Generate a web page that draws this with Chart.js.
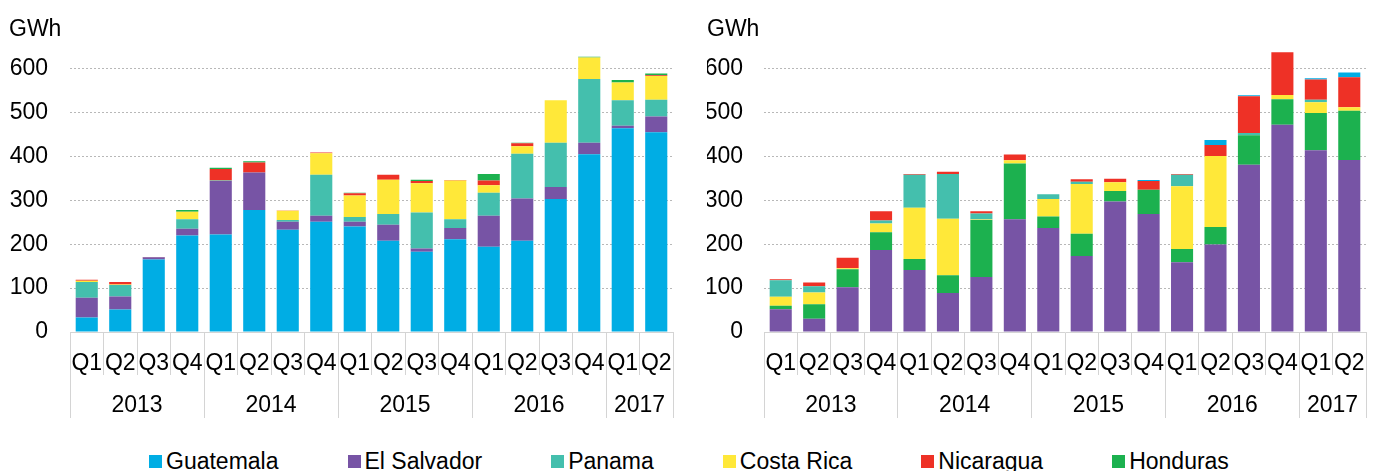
<!DOCTYPE html>
<html>
<head>
<meta charset="utf-8">
<script src="https://cdn.jsdelivr.net/npm/chart.js@4.4.1/dist/chart.umd.min.js"></script>
<style>
  body { margin: 0; width: 1373px; height: 471px; overflow: hidden; background: #fff;
         font-family: 'Liberation Sans', Arial, sans-serif; }
  .box { position: absolute; top: 0; height: 420px; }
  #legend { position: absolute; left: 149px; top: 450px; display: flex; gap: 69px;
            font-size: 23px; line-height: 23px; color: #000; white-space: nowrap; }
  .item { display: flex; align-items: center; }
  .sw { width: 13px; height: 13px; margin-right: 4px; }
</style>
</head>
<body>
<div class="box" style="left:0;width:690px"><canvas id="chart-left"></canvas></div>
<div class="box" style="left:690px;width:683px"><canvas id="chart-right"></canvas></div>
<div id="legend"></div>

<script>
// 横轴：季度 + 年份
const quarters = ['Q1', 'Q2', 'Q3', 'Q4', 'Q1', 'Q2', 'Q3', 'Q4', 'Q1', 'Q2', 'Q3', 'Q4',
                  'Q1', 'Q2', 'Q3', 'Q4', 'Q1', 'Q2'];
const years = ['2013', '2014', '2015', '2016', '2017'];
const quartersPerYear = [4, 4, 4, 4, 2];

// 纵轴刻度
const yMax = 650;
const yTicks = [0, 100, 200, 300, 400, 500, 600];

// 左图 (GWh)
const leftGuatemala  = [33, 51, 165, 220, 222, 278, 233, 251, 240, 208, 183, 211, 194, 208, 303, 405, 464, 455];
const leftElSalvador = [45, 30, 5, 15, 122, 85, 18, 14, 11, 36, 7, 26, 71, 96, 27, 26, 6, 36];
const leftPanama     = [36, 26, 0, 22, 1, 0, 4, 93, 11, 25, 82, 20, 52, 102, 101, 145, 58, 38];
const leftCostaRica  = [3, 1, 0, 17, 0, 0, 21, 49, 49, 78, 67, 88, 17, 17, 97, 49, 40, 54];
const leftNicaragua  = [2, 6, 1, 0, 26, 23, 1, 2, 5, 11, 5, 1, 11, 7, 0, 0, 0, 2];
const leftHonduras   = [0, 0, 0, 4, 3, 3, 0, 0, 1, 0, 3, 0, 15, 1, 0, 2, 6, 4];

// 右图 (GWh)
const rightElSalvador = [52, 30, 102, 187, 141, 89, 125, 257, 237, 173, 297, 269, 159, 199, 381, 472, 414, 392];
const rightHonduras   = [8, 33, 41, 40, 25, 40, 130, 127, 26, 51, 24, 55, 30, 40, 67, 58, 85, 112];
const rightCostaRica  = [20, 27, 2, 20, 117, 129, 1, 7, 40, 113, 20, 0, 143, 162, 0, 10, 24, 8];
const rightPanama     = [38, 14, 0, 7, 75, 102, 14, 0, 11, 5, 0, 0, 26, 0, 5, 0, 6, 0];
const rightNicaragua  = [2, 9, 24, 21, 2, 5, 5, 13, 0, 6, 8, 20, 2, 25, 84, 97, 46, 68];
const rightGuatemala  = [0, 0, 0, 0, 0, 0, 0, 0, 0, 0, 0, 2, 0, 11, 2, 0, 3, 11];

const countries = ['Guatemala', 'El Salvador', 'Panama', 'Costa Rica', 'Nicaragua', 'Honduras'];
const colors = {
    'Guatemala': '#00ADE4',
    'El Salvador': '#7754A5',
    'Panama': '#44BFAD',
    'Costa Rica': '#FFE839',
    'Nicaragua': '#EE3126',
    'Honduras': '#1CB14F'
};

Chart.defaults.font.family = "'Liberation Sans', Arial, sans-serif";
Chart.defaults.color = '#000';

// 年份分组：边界和中心（按类别索引）
const yearBounds = [-0.5];
const yearCenters = [];
quartersPerYear.forEach(n => {
    const start = yearBounds[yearBounds.length - 1];
    yearCenters.push(start + n / 2);
    yearBounds.push(start + n);
});

const lineGrey = '#D4D4D4';

function makeChart(id, series, pad) {
    const datasets = series.map(([name, values]) => ({
        label: name,
        data: values,
        backgroundColor: colors[name],
        borderWidth: 0,
        barPercentage: 0.66,
        categoryPercentage: 1
    }));

    return new Chart(document.getElementById(id), {
        type: 'bar',
        data: { labels: quarters, datasets: datasets },
        options: {
            responsive: true,
            maintainAspectRatio: false,
            animation: false,
            layout: { padding: { left: pad.left, right: pad.right, top: 0, bottom: 2 } },
            plugins: {
                legend: { display: false },
                tooltip: { enabled: false },
                title: {
                    display: true,
                    text: 'GWh',
                    align: 'start',
                    color: '#000',
                    font: { size: 23, weight: 'normal' },
                    padding: { top: 16, bottom: 3 }
                }
            },
            scales: {
                x: {
                    stacked: true,
                    offset: true,
                    grid: { offset: true, drawOnChartArea: false, tickLength: 43, color: lineGrey },
                    border: { color: lineGrey },
                    ticks: { font: { size: 23 }, padding: -25, autoSkip: false, maxRotation: 0 },
                    afterFit: s => { s.height = 43; }
                },
                year: {
                    type: 'linear',
                    position: 'bottom',
                    weight: 1,
                    offset: false,
                    min: yearBounds[0],
                    max: yearBounds[yearBounds.length - 1],
                    afterBuildTicks: s => {
                        s.ticks = yearBounds.concat(yearCenters).sort((a, b) => a - b).map(v => ({ value: v }));
                    },
                    grid: {
                        offset: false,
                        drawOnChartArea: false,
                        tickLength: 43,
                        color: ctx => (ctx.tick && yearBounds.includes(ctx.tick.value)) ? lineGrey : 'rgba(0,0,0,0)'
                    },
                    border: { display: false },
                    ticks: {
                        font: { size: 23 },
                        padding: -26,
                        autoSkip: false,
                        maxRotation: 0,
                        callback: v => {
                            const i = yearCenters.indexOf(v);
                            return i >= 0 ? years[i] : '';
                        }
                    },
                    afterFit: s => { s.height = 43; }
                },
                y: {
                    stacked: true,
                    min: 0,
                    max: yMax,
                    afterBuildTicks: s => { s.ticks = yTicks.map(v => ({ value: v })); },
                    ticks: { font: { size: 23 }, padding: pad.tick },
                    grid: {
                        drawTicks: false,
                        color: ctx => (ctx.tick && ctx.tick.value === 0) ? 'rgba(0,0,0,0)' : '#B8B8B8'
                    },
                    border: { display: false, dash: [2, 2] },
                    afterFit: s => { s.width = pad.axis; }
                }
            }
        }
    });
}

// 左图：堆叠顺序 Guatemala 在最下
window.leftChart = makeChart('chart-left', [
    ['Guatemala', leftGuatemala],
    ['El Salvador', leftElSalvador],
    ['Panama', leftPanama],
    ['Costa Rica', leftCostaRica],
    ['Nicaragua', leftNicaragua],
    ['Honduras', leftHonduras]
], { left: 9, right: 17, axis: 61, tick: 22 });

// 右图：堆叠顺序 El Salvador 在最下
window.rightChart = makeChart('chart-right', [
    ['El Salvador', rightElSalvador],
    ['Honduras', rightHonduras],
    ['Costa Rica', rightCostaRica],
    ['Panama', rightPanama],
    ['Nicaragua', rightNicaragua],
    ['Guatemala', rightGuatemala]
], { left: 17, right: 7, axis: 57, tick: 21 });

// 共用图例
const legend = document.getElementById('legend');
countries.forEach(name => {
    const item = document.createElement('div');
    item.className = 'item';
    const sw = document.createElement('span');
    sw.className = 'sw';
    sw.style.background = colors[name];
    const txt = document.createElement('span');
    txt.textContent = name;
    item.appendChild(sw);
    item.appendChild(txt);
    legend.appendChild(item);
});
</script>
</body>
</html>
